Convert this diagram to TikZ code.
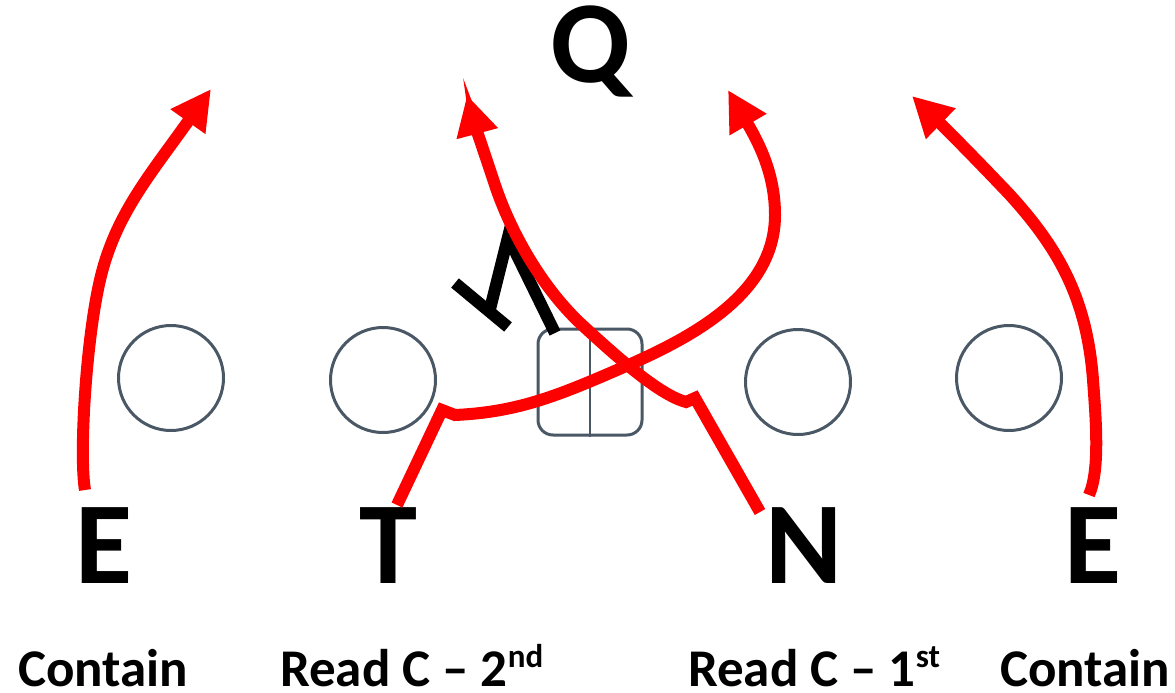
\documentclass[tikz,border=0pt]{standalone}
\usepackage{fontspec}
\setmainfont{Carlito}
\usetikzlibrary{arrows.meta}
\definecolor{slate}{RGB}{74,88,102}
\newcommand{\supx}[1]{\raisebox{19pt}{\fontsize{33}{33}\selectfont #1}}
\tikzset{
  player/.style={draw=slate, line width=3pt, circle, minimum size=105pt, inner sep=0pt},
  center/.style={draw=slate, line width=3pt, rounded corners=15pt, minimum width=104pt, minimum height=106pt, inner sep=0pt},
  big/.style={font=\fontsize{117}{117}\selectfont\bfseries, anchor=base, inner sep=0pt},
  lab/.style={font=\fontsize{53}{53}\selectfont\bfseries, anchor=base west, inner sep=0pt},
  route/.style={draw=red, line width=12pt, line cap=butt, line join=miter},
  routearrow/.style={route, -{Triangle[length=40pt,width=40pt]}},
  block/.style={draw=black, line width=12pt, line cap=butt, line join=miter}
}
\begin{document}
\begin{tikzpicture}[x=1pt,y=-1pt]
\useasboundingbox (0,0) rectangle (1175,693);
% linemen
\node[player] (c1) at (171,378) {};
\node[player] (c2) at (383,380) {};
\node[player] (c3) at (798,382) {};
\node[player] (c4) at (1009,378) {};
\node[center] (ctr) at (590,382) {};
\draw[slate, line width=1.5pt] (ctr.north) -- (ctr.south);
% defenders
\node[big] (Q) at (591,82) {Q};
\node[big] (E1) at (104,583) {E};
\node[big] (T) at (388,583) {T};
\node[big] (N) at (804,583) {N};
\node[big] (E2) at (1093,583) {E};
% labels
\node[lab] (l1) at (18,686) {Contain};
\node[lab] (l2) at (280,686) {Read C -- 2\supx{nd}};
\node[lab] (l3) at (688,686) {Read C -- 1\supx{st}};
\node[lab] (l4) at (1000,686) {Contain};
% block
\coordinate (b1) at (555,333);
\coordinate (b2) at (508,237);
\coordinate (b3) at (489,313);
\coordinate (b4) at (455,283);
\coordinate (b5) at (508,327);
\draw[block] (b1) -- (b2) -- (b3);
\draw[block] (b4) -- (b5);
% routes
\coordinate (e1s) at (85,490);
\coordinate (e1t) at (211,89);
\draw[routearrow] (e1s) .. controls (79,455) and (86,340) .. (100,280) .. controls (115,215) and (150,175) .. (e1t);
\coordinate (e2s) at (1089,495);
\coordinate (e2t) at (912,96);
\draw[routearrow] (e2s) .. controls (1100,470) and (1096,420) .. (1093,380) .. controls (1087,300) and (1060,250) .. (1010,195) .. controls (975,158) and (940,123) .. (e2t);
\coordinate (ts) at (397,505);
\coordinate (tt) at (728,90);
\draw[routearrow] (ts) -- (442,410) -- (455,415) .. controls (520,412) and (560,395) .. (633,363) .. controls (700,333) and (775,290) .. (775,215) .. controls (775,175) and (760,145) .. (tt);
\coordinate (ns) at (760,512);
\coordinate (nt) at (467,95);
\draw[routearrow] (ns) -- (695,398) -- (686,402) .. controls (660,395) and (620,360) .. (580,323) .. controls (540,285) and (510,230) .. (495,185) .. controls (485,155) and (475,125) .. (nt);
\end{tikzpicture}
\end{document}
